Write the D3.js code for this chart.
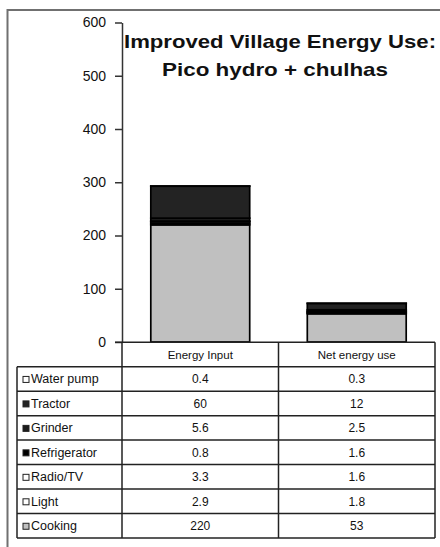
<!DOCTYPE html>
<html>
<head>
<meta charset="utf-8">
<script src="https://cdn.jsdelivr.net/npm/d3@7"></script>
<style>
  html, body { margin: 0; padding: 0; background: #fff; }
  svg { display: block; font-family: "Liberation Sans", Arial, sans-serif; }
</style>
</head>
<body>
<svg id="chart" width="440" height="547"></svg>
<script>
// ---- data ----
const categories = ["Energy Input", "Net energy use"];
const seriesNames = ["Water pump", "Tractor", "Grinder", "Refrigerator", "Radio/TV", "Light", "Cooking"];
const energyInput = [0.4, 60, 5.6, 0.8, 3.3, 2.9, 220];
const netEnergyUse = [0.3, 12, 2.5, 1.6, 1.6, 1.8, 53];
const yTicks = [0, 100, 200, 300, 400, 500, 600];
const titleLines = ["Improved Village Energy Use:", "Pico hydro + chulhas"];
const seriesColors = ["#ffffff", "#232323", "#1c1c1c", "#000000", "#ffffff", "#ffffff", "#c0c0c0"];

// ---- build ----
const svg = d3.select("#chart");
const colorOf = d3.scaleOrdinal().domain(seriesNames).range(seriesColors);

const rows = categories.map((c, i) => {
  const o = { category: c };
  seriesNames.forEach((s, j) => { o[s] = [energyInput, netEnergyUse][i][j]; });
  return o;
});

const y = d3.scaleLinear().domain([0, 600]).range([342, 22.5]);
const x = d3.scaleBand().domain(categories).range([122, 435]).padding(0);
const barW = x.bandwidth() * 0.632;

// outer frame
svg.append("line").attr("x1", 7).attr("x2", 440).attr("y1", 10).attr("y2", 10)
  .attr("stroke", "#707070").attr("stroke-width", 2);
svg.append("line").attr("x1", 7.5).attr("x2", 7.5).attr("y1", 9).attr("y2", 547)
  .attr("stroke", "#707070").attr("stroke-width", 2);

// stacked bars (Cooking at bottom)
const stack = d3.stack().keys(seriesNames.slice().reverse());
const layers = stack(rows);
const g = svg.append("g");
layers.forEach(layer => {
  g.selectAll(null).data(layer).enter().append("rect")
    .attr("x", d => x(d.data.category) + (x.bandwidth() - barW) / 2)
    .attr("y", d => y(d[1]))
    .attr("width", barW)
    .attr("height", d => y(d[0]) - y(d[1]))
    .attr("fill", colorOf(layer.key))
    .attr("stroke", "#000")
    .attr("stroke-width", 1.7);
});

// y axis
const yAxis = d3.axisLeft(y).tickValues(yTicks).tickSize(7).tickPadding(9).tickSizeOuter(0);
const ax = svg.append("g").attr("transform", "translate(122,0)").call(yAxis);
ax.select(".domain").attr("stroke", "#333").attr("stroke-width", 1.5);
ax.selectAll(".tick line").attr("stroke", "#333").attr("stroke-width", 1.5);
ax.selectAll(".tick text").attr("font-size", 14).attr("fill", "#111")
  .attr("font-family", "Liberation Sans, Arial, sans-serif");

// title
const title = svg.append("g");
title.append("text").attr("x", 280).attr("y", 48).attr("text-anchor", "middle")
  .attr("font-weight", "bold").attr("font-size", 19).attr("fill", "#111")
  .attr("textLength", 312).attr("lengthAdjust", "spacingAndGlyphs")
  .text(titleLines[0]);
title.append("text").attr("x", 275).attr("y", 76).attr("text-anchor", "middle")
  .attr("font-weight", "bold").attr("font-size", 19).attr("fill", "#111")
  .attr("textLength", 226).attr("lengthAdjust", "spacingAndGlyphs")
  .text(titleLines[1]);

// data table
const headerTop = 342.3, headerBot = 366.7, tableBot = 538;
const tableLeft = 17, tableRight = 435;
const rowScale = d3.scaleBand().domain(seriesNames).range([headerBot, tableBot]);
const t = svg.append("g");
const lineC = "#222", lineW = 1.5;
// header area line
t.append("line").attr("x1", 115).attr("x2", tableRight).attr("y1", headerTop).attr("y2", headerTop)
  .attr("stroke", lineC).attr("stroke-width", lineW);
// horizontal lines of rows
[headerBot].concat(seriesNames.map(s => rowScale(s) + rowScale.bandwidth())).forEach(yy => {
  t.append("line").attr("x1", tableLeft).attr("x2", tableRight).attr("y1", yy).attr("y2", yy)
    .attr("stroke", lineC).attr("stroke-width", lineW);
});
// vertical lines
t.append("line").attr("x1", tableLeft).attr("x2", tableLeft).attr("y1", headerBot).attr("y2", tableBot)
  .attr("stroke", lineC).attr("stroke-width", lineW);
categories.concat([null]).forEach(c => {
  const xx = c === null ? tableRight : x(c);
  t.append("line").attr("x1", xx).attr("x2", xx).attr("y1", headerTop).attr("y2", tableBot)
    .attr("stroke", lineC).attr("stroke-width", lineW);
});
// header labels
categories.forEach(c => {
  t.append("text").attr("x", x(c) + x.bandwidth() / 2).attr("y", (headerTop + headerBot) / 2 + 4)
    .attr("text-anchor", "middle").attr("font-size", 11.5).attr("fill", "#111").text(c);
});
// row labels with markers and values
seriesNames.forEach((s, j) => {
  const cy = rowScale(s) + rowScale.bandwidth() / 2;
  t.append("rect").attr("x", 23).attr("y", cy - 2.5).attr("width", 6).attr("height", 6)
    .attr("fill", colorOf(s)).attr("stroke", "#222").attr("stroke-width", 1);
  t.append("text").attr("x", 31).attr("y", cy + 4.5).attr("font-size", 12.5).attr("fill", "#111").text(s);
  [energyInput, netEnergyUse].forEach((arr, i) => {
    const c = categories[i];
    t.append("text").attr("x", x(c) + x.bandwidth() / 2).attr("y", cy + 4.5)
      .attr("text-anchor", "middle").attr("font-size", 12).attr("fill", "#111").text(String(arr[j]));
  });
});
</script>
</body>
</html>
